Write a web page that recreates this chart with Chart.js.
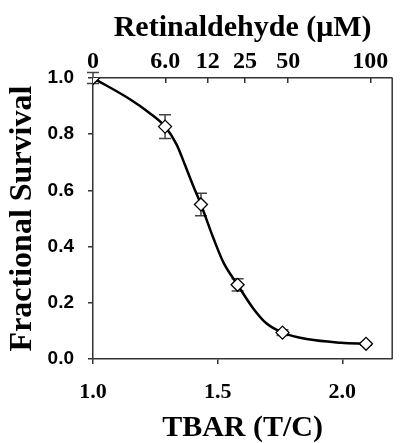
<!DOCTYPE html>
<html>
<head>
<meta charset="utf-8">
<script src="https://cdn.jsdelivr.net/npm/chart.js@4.4.0/dist/chart.umd.min.js"></script>
<style>
  body { margin: 0; background: #fff; }
  canvas { display: block; }
</style>
</head>
<body>
<canvas id="survival-chart" width="400" height="443"></canvas>
<script>
// measured points (TBAR ratio vs fractional survival)
const tbar = [1.0, 1.289, 1.433, 1.58, 1.76, 2.095];
const survival = [1.0, 0.827, 0.55, 0.264, 0.094, 0.054];
const survivalErr = [0.02, 0.042, 0.04, 0.022, 0.01, 0.005];

// fitted curve
const curveX = [1.0, 1.145, 1.224, 1.289, 1.335, 1.367, 1.40, 1.433, 1.485, 1.524, 1.58, 1.642, 1.694, 1.76, 1.864, 1.995, 2.095];
const curveY = [1.0, 0.926, 0.877, 0.827, 0.764, 0.695, 0.62, 0.55, 0.425, 0.342, 0.264, 0.181, 0.128, 0.094, 0.070, 0.058, 0.054];

// top axis: retinaldehyde dose and where it sits on the TBAR axis
const doseLabels = ['0', '6.0', '12', '25', '50', '100'];
const dosePos = [1.0, 1.29, 1.46, 1.61, 1.783, 2.112];

const bottomTicks = [1.0, 1.5, 2.0];
const leftTicks = [0, 0.2, 0.4, 0.6, 0.8, 1.0];

const axisColor = '#333';

const errorBars = {
    id: 'errorBars',
    beforeDatasetsDraw(chart) {
        const ctx = chart.ctx;
        const xs = chart.scales.x;
        const ys = chart.scales.y;
        ctx.save();
        ctx.strokeStyle = '#444';
        ctx.lineWidth = 1.5;
        tbar.forEach((t, i) => {
            const px = xs.getPixelForValue(t);
            const top = ys.getPixelForValue(survival[i] + survivalErr[i]);
            const bot = ys.getPixelForValue(survival[i] - survivalErr[i]);
            ctx.beginPath();
            ctx.moveTo(px, top); ctx.lineTo(px, bot);
            ctx.moveTo(px - 6, top); ctx.lineTo(px + 6, top);
            ctx.moveTo(px - 6, bot); ctx.lineTo(px + 6, bot);
            ctx.stroke();
        });
        ctx.restore();
    },
    afterDraw(chart) {
        // right side of the frame
        const a = chart.chartArea;
        const ctx = chart.ctx;
        ctx.save();
        ctx.strokeStyle = axisColor;
        ctx.lineWidth = 1.5;
        ctx.beginPath();
        ctx.moveTo(a.right, a.top);
        ctx.lineTo(a.right, a.bottom);
        ctx.stroke();
        ctx.restore();
    }
};

const ctx = document.getElementById('survival-chart').getContext('2d');

const survivalChart = new Chart(ctx, {
    type: 'scatter',
    data: {
        datasets: [{
            label: 'fit',
            data: curveX.map((x, i) => ({ x: x, y: curveY[i] })),
            showLine: true,
            borderColor: '#000',
            borderWidth: 2.5,
            pointRadius: 0,
            cubicInterpolationMode: 'monotone',
            fill: false,
            order: 2
        }, {
            label: 'survival',
            data: tbar.map((x, i) => ({ x: x, y: survival[i] })),
            pointStyle: 'rectRot',
            pointRadius: 6.5,
            pointBackgroundColor: '#fff',
            pointBorderColor: '#000',
            pointBorderWidth: 1.3,
            order: 1
        }]
    },
    options: {
        responsive: false,
        animation: false,
        layout: { padding: { right: 3 } },
        plugins: {
            legend: { display: false },
            tooltip: { enabled: false }
        },
        scales: {
            x: {
                type: 'linear',
                position: 'bottom',
                min: 1.0,
                max: 2.2,
                afterBuildTicks: (s) => { s.ticks = bottomTicks.map(v => ({ value: v })); },
                afterFit: (s) => { s.height = 84; },
                grid: { drawOnChartArea: false, tickLength: 5, color: axisColor, lineWidth: 1.5 },
                border: { color: axisColor, width: 1.5 },
                ticks: {
                    padding: 15,
                    color: '#000',
                    font: { family: 'Liberation Serif', weight: 'bold', size: 22 },
                    callback: (v) => v.toFixed(1)
                },
                title: {
                    display: true,
                    text: 'TBAR (T/C)',
                    color: '#000',
                    padding: { top: 0, bottom: 0 },
                    font: { family: 'Liberation Serif', weight: 'bold', size: 30, lineHeight: 1.0 }
                }
            },
            x2: {
                type: 'linear',
                position: 'top',
                min: 1.0,
                max: 2.2,
                afterBuildTicks: (s) => { s.ticks = dosePos.map(v => ({ value: v })); },
                afterFit: (s) => { s.height = 78; },
                grid: { drawOnChartArea: false, tickLength: -5, color: axisColor, lineWidth: 1.5 },
                border: { color: axisColor, width: 1.5 },
                ticks: {
                    padding: 7,
                    color: '#000',
                    font: { family: 'Liberation Serif', weight: 'bold', size: 24 },
                    callback: (v, i) => doseLabels[i]
                },
                title: {
                    display: true,
                    text: 'Retinaldehyde (μM)',
                    color: '#000',
                    padding: { top: 10, bottom: 0 },
                    font: { family: 'Liberation Serif', weight: 'bold', size: 30 }
                }
            },
            y: {
                min: 0,
                max: 1.0,
                afterBuildTicks: (s) => { s.ticks = leftTicks.map(v => ({ value: v })); },
                afterFit: (s) => { s.width = 93; },
                grid: { drawOnChartArea: false, tickLength: 5, color: axisColor, lineWidth: 1.5 },
                border: { color: axisColor, width: 1.5 },
                ticks: {
                    padding: 14,
                    color: '#000',
                    font: { family: 'Liberation Sans', weight: 'bold', size: 19 },
                    callback: (v) => v.toFixed(1)
                },
                title: {
                    display: true,
                    text: 'Fractional Survival',
                    color: '#000',
                    padding: { top: 4, bottom: 0 },
                    font: { family: 'Liberation Serif', weight: 'bold', size: 32 }
                }
            }
        }
    },
    plugins: [errorBars]
});
</script>
</body>
</html>
